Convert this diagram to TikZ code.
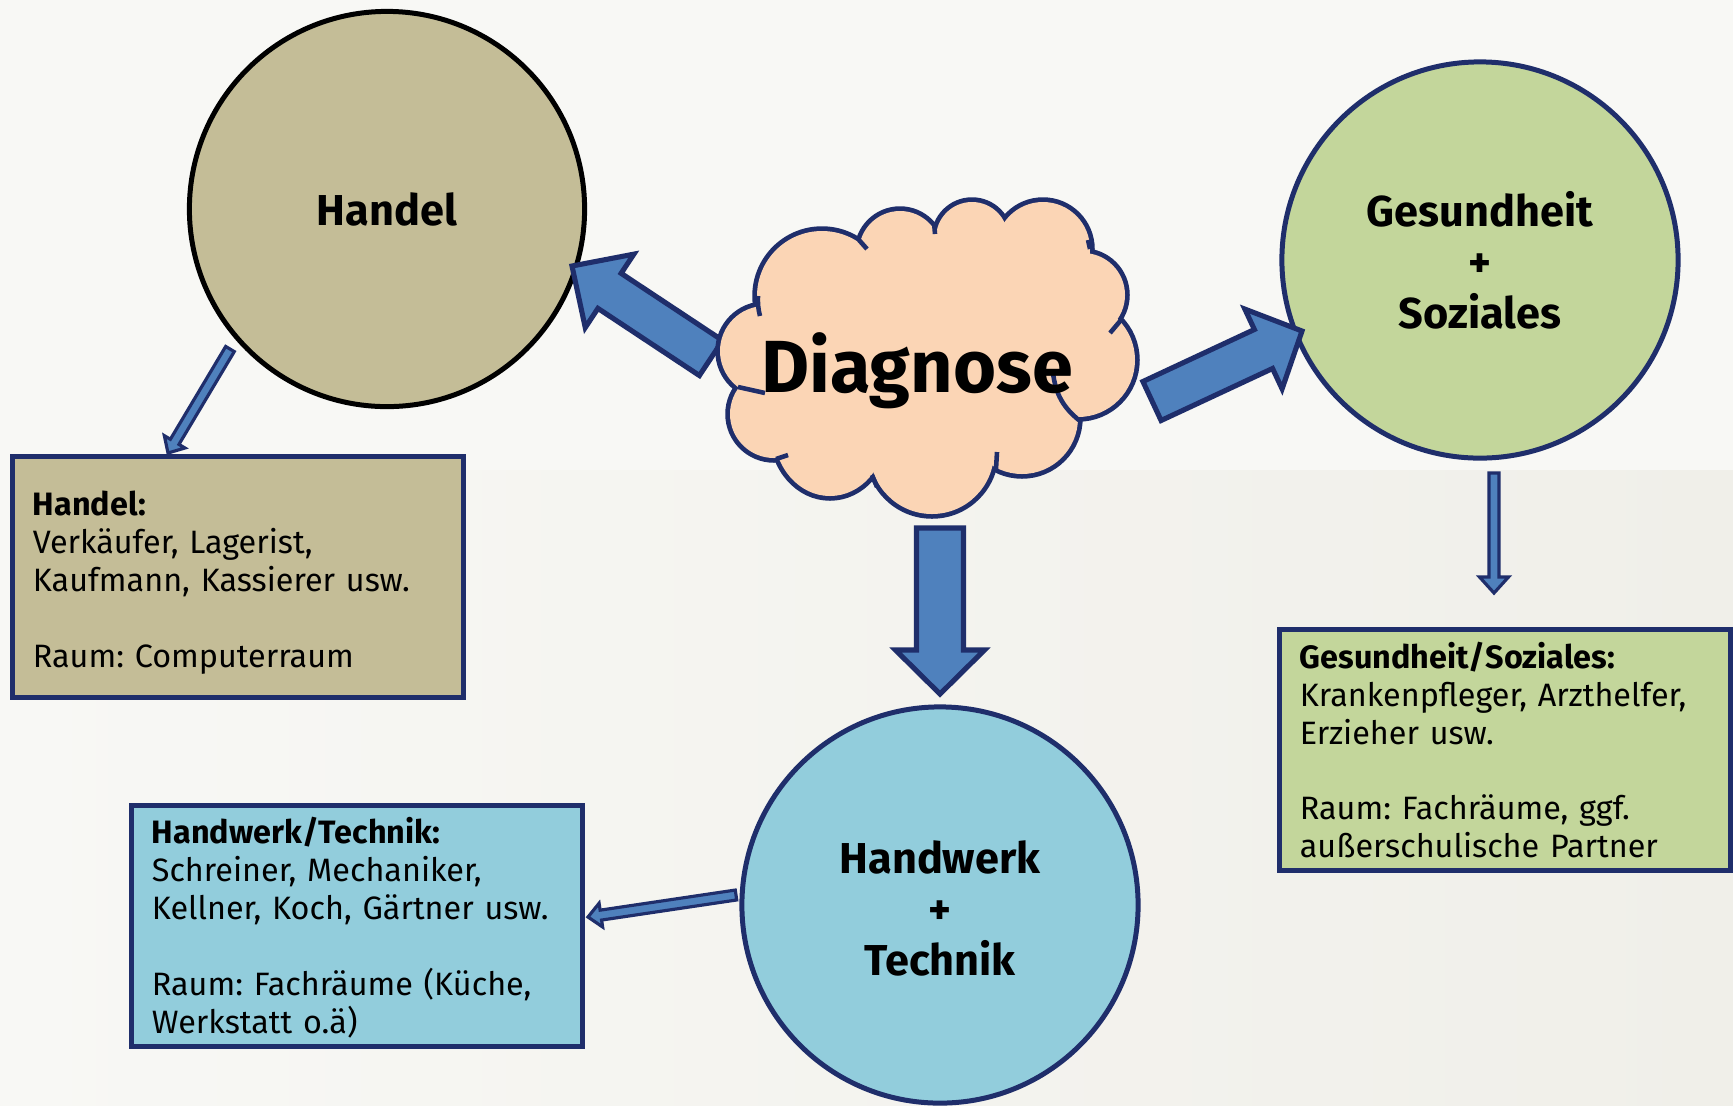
\documentclass[tikz,border=0pt]{standalone}
\usepackage{fontspec}
\setmainfont{Fira Sans}
\usetikzlibrary{calc}
\definecolor{navy}{HTML}{1F2E6B}
\definecolor{tanfill}{HTML}{C4BD97}
\definecolor{sagefill}{HTML}{C3D69B}
\definecolor{skyfill}{HTML}{92CDDC}
\definecolor{peachfill}{HTML}{FBD5B5}
\definecolor{arrowblue}{HTML}{4F81BD}
\definecolor{bgtop}{HTML}{F8F8F5}
\definecolor{bgbotl}{HTML}{F8F8F5}
\definecolor{bgbotr}{HTML}{F0EFE9}
% #1 style, #2 from, #3 to, #4 shaft half width, #5 head half width, #6 head length
\newcommand\blockarrow[6][]{%
  \coordinate (bahb) at ($(#3)!#6!(#2)$);
  \filldraw[#1] ($(#2)!#4!90:(#3)$) -- ($(bahb)!#4!90:(#3)$) -- ($(bahb)!#5!90:(#3)$)
    -- (#3) -- ($(bahb)!#5!-90:(#3)$) -- ($(bahb)!#4!-90:(#3)$) -- ($(#2)!#4!-90:(#3)$) -- cycle;
}
\begin{document}
\frenchspacing
\begin{tikzpicture}[x=0.01cm,y=-0.01cm,
  topic/.style={circle, line width=1.42pt, align=center,
    font=\bfseries\fontsize{12.3}{14.5}\selectfont},
  infobox/.style={rectangle, draw=navy, line width=1.42pt, align=left,
    inner xsep=0.2cm, inner ysep=0pt, text width=4.1cm, minimum width=4.5cm,
    minimum height=2.41cm, font=\fontsize{9.2}{10.8}\selectfont},
  bigarrow/.style={fill=arrowblue, draw=navy, line width=1.45pt},
  smallarrow/.style={fill=arrowblue, draw=navy, line width=0.9pt},
  cloudline/.style={navy, line width=1.3pt}]
\useasboundingbox (0,0) rectangle (1733,1105);
% background
\fill[bgtop] (0,0) rectangle (1733,470);
\shade[left color=bgbotl, right color=bgbotr] (0,470) rectangle (1733,1105);

% topic circles
\node[topic, draw=black, fill=tanfill, minimum size=3.95cm] (handel) at (387,209) {Handel};
\node[topic, draw=navy, fill=sagefill, minimum size=3.96cm] (gesund) at (1480,260) {Gesundheit\\+\\Soziales};
\node[topic, draw=navy, fill=skyfill, minimum size=3.96cm] (handwerk) at (940,905) {\rule{0pt}{11.4pt}Handwerk\\+\\Technik};

% info boxes
\node[infobox, fill=tanfill] (handelbox) at (238,577)
  {\rule{0pt}{10.3pt}\textbf{Handel:}\\Verkäufer, Lagerist,\\Kaufmann, Kassierer usw.\\[10.8pt]Raum: Computerraum};
\node[infobox, fill=sagefill] (gesundbox) at (1505,750)
  {\textbf{Gesundheit/Soziales:}\\Krankenpfleger, Arzthelfer,\\Erzieher usw.\\[10.8pt]Raum: Fachräume, ggf.\\außerschulische Partner};
\node[infobox, fill=skyfill] (handwerkbox) at (357,926)
  {\rule{0pt}{8.6pt}\textbf{Handwerk/Technik:}\\Schreiner, Mechaniker,\\Kellner, Koch, Gärtner usw.\\[10.8pt]Raum: Fachräume (Küche,\\Werkstatt o.ä)};

% arrow end points
\coordinate (a1s) at (711,358);  \coordinate (a1t) at (572,266);
\coordinate (a2s) at (1152,401); \coordinate (a2t) at (1302,331);
\coordinate (a3s) at (940,528);  \coordinate (a3t) at (940,694);
\coordinate (s1s) at (230,349);  \coordinate (s1t) at (168,453);
\coordinate (s2s) at (1494,473); \coordinate (s2t) at (1494,593);
\coordinate (s3s) at (736,895);  \coordinate (s3t) at (588,917);

\blockarrow[bigarrow]{a1s}{a1t}{0.21cm}{0.44cm}{0.45cm}
\blockarrow[bigarrow]{a2s}{a2t}{0.215cm}{0.44cm}{0.425cm}
\blockarrow[bigarrow]{a3s}{a3t}{0.235cm}{0.445cm}{0.44cm}
\blockarrow[smallarrow]{s1s}{s1t}{0.05cm}{0.12cm}{0.13cm}
\blockarrow[smallarrow]{s2s}{s2t}{0.05cm}{0.145cm}{0.16cm}
\blockarrow[smallarrow]{s3s}{s3t}{0.05cm}{0.12cm}{0.13cm}

% cloud: union of puffs (outline stroked double, then filled)
\foreach \cx/\cy/\rx/\ry in {822/296/65/65, 765/351/45/45, 774/414/44/44, 830/432/56/64,
  932/452/62/62, 1022/418/56/56, 1078/360/57/57, 1083/295/42/42, 1043/249/47/47,
  972/238/36/36, 900/252/41/41}
  \draw[navy, line width=2.7pt] (\cx,\cy) ellipse[x radius=\rx, y radius=\ry];
\foreach \cx/\cy/\rx/\ry in {822/296/65/65, 765/351/45/45, 774/414/44/44, 830/432/56/64,
  932/452/62/62, 1022/418/56/56, 1078/360/57/57, 1083/295/42/42, 1043/249/47/47,
  972/238/36/36, 900/252/41/41}
  \fill[peachfill] (\cx,\cy) ellipse[x radius=\rx, y radius=\ry];
\fill[peachfill] (822,296) -- (900,252) -- (972,238) -- (1043,249) -- (1083,295) -- (1078,360)
  -- (1022,418) -- (932,452) -- (830,432) -- (774,414) -- (765,351) -- cycle;
% short inner arcs of the cloud
\draw[cloudline] (760,316) to[bend left=8] (758,296);
\draw[cloudline] (859,240) -- (867,249);
\draw[cloudline] (934,222) -- (935,234);
\draw[cloudline] (1088,240) -- (1090,249);
\draw[cloudline] (1110,333) -- (1121,320);
\draw[cloudline] (1053,373) to[bend right=22] (1080,421);
\draw[cloudline] (997,452) -- (996,469);
\draw[cloudline] (872,475) -- (877,487);
\draw[cloudline] (776,459) -- (788,455);
\draw[cloudline] (738,387) -- (765,393);
\node[font=\bfseries\fontsize{21}{25}\selectfont, anchor=base, inner sep=0pt] (diag) at (917,392) {Diagnose};
\end{tikzpicture}
\end{document}
